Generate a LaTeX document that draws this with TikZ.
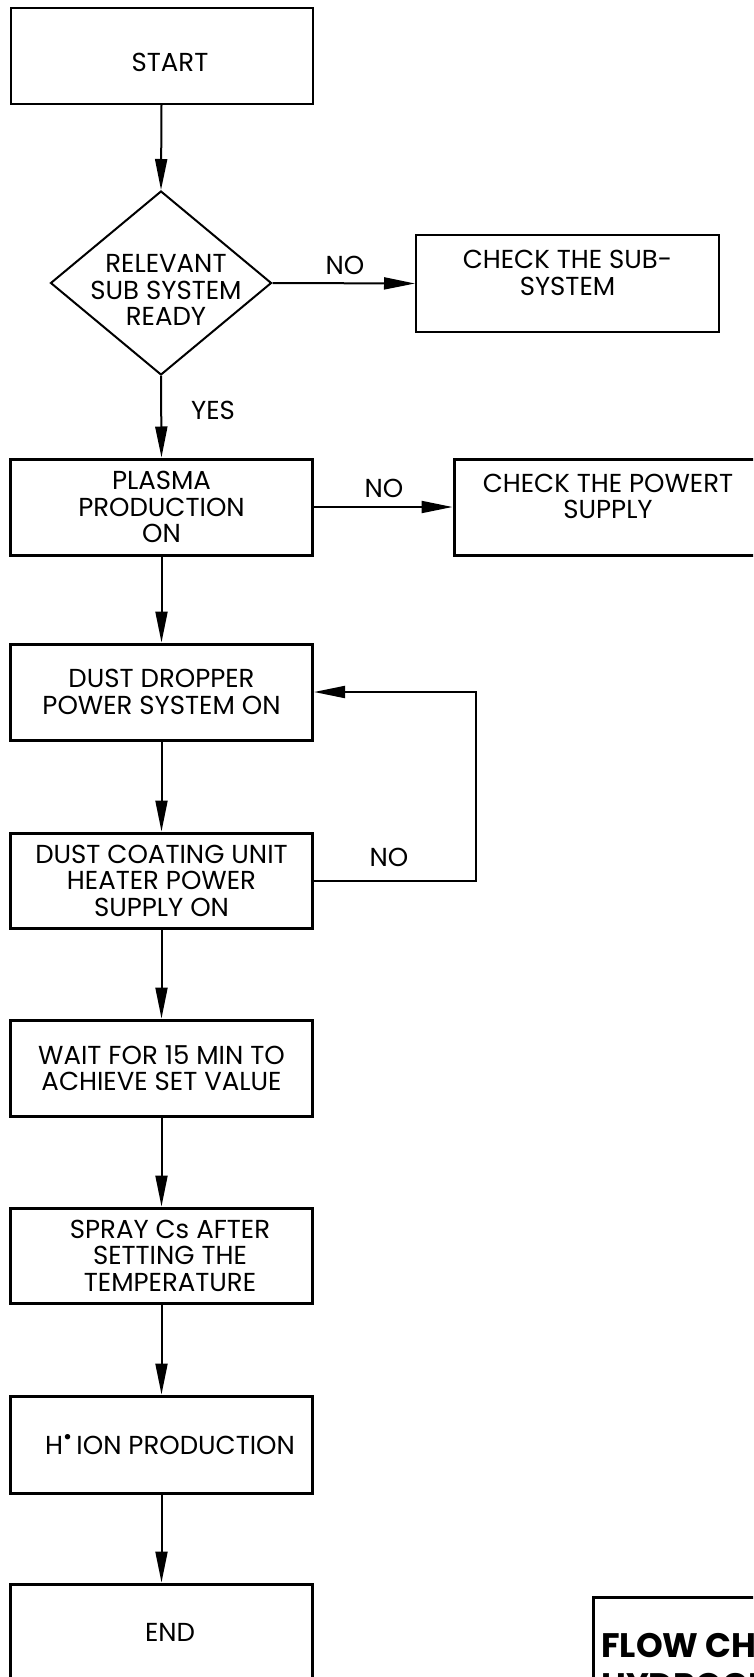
\documentclass[tikz,border=0pt]{standalone}
\usepackage{fontspec}
\setmainfont{Poppins}
\usetikzlibrary{arrows.meta,shapes.geometric}
\newcommand\boxfont{\fontsize{26}{26.5}\selectfont}
\newcommand\titlefont{\fontsize{34}{38}\selectfont\bfseries}
\newcommand\rsh{\hspace*{17pt}}
\begin{document}
\begin{tikzpicture}[x=1pt,y=-1pt,
  box/.style={draw, line width=3pt, minimum width=302pt, minimum height=96pt, inner sep=0pt, align=center, font=\boxfont},
  thinbox/.style={box, line width=2pt},
  decision/.style={draw, diamond, line width=2pt, minimum width=221pt, minimum height=184pt, inner sep=0pt},
  arr/.style={line width=2pt, -{Triangle[length=31pt,width=12pt]}},
  lbl/.style={font=\boxfont, inner sep=0pt, align=center},
  ttl/.style={font=\titlefont, inner sep=0pt, anchor=base west}]
\useasboundingbox (0,0) rectangle (753,1677);
\fill[white] (0,0) rectangle (753,1677);
\begin{scope}
\clip (0,0) rectangle (753,1677);
% boxes
\node[thinbox, text height=31pt, text depth=0pt] (start) at (161.5,56) {\rsh START};
\node[decision] (dec) at (161,283) {};
\node[lbl] (dectext) at (166,290) {RELEVANT\\SUB SYSTEM\\READY};
\node[thinbox, minimum width=303pt, minimum height=97pt, text depth=21pt] (chk) at (567.5,283.5) {CHECK THE SUB-\\SYSTEM};
\node[box] (pla) at (161.5,507) {PLASMA\\PRODUCTION\\ON};
\node[box, minimum width=320pt, text depth=21pt] (pow) at (614,507) {\hspace*{-12pt}CHECK THE POWERT\\\hspace*{-12pt}SUPPLY};
\node[box] (dd) at (161.5,692) {DUST DROPPER\\POWER SYSTEM ON};
\node[box, minimum height=95pt] (dc) at (161.5,880.5) {DUST COATING UNIT\\HEATER POWER\\SUPPLY ON};
\node[box] (wait) at (161.5,1068) {WAIT FOR 15 MIN TO\\ACHIEVE SET VALUE};
\node[box, minimum height=95pt] (spray) at (161.5,1255.5) {\rsh SPRAY Cs AFTER\\\rsh SETTING THE\\\rsh TEMPERATURE};
\node[box, minimum height=97pt] (hion) at (161.5,1444.5) {\rsh H\raisebox{10pt}{\fontsize{22}{22}\selectfont •}\,ION PRODUCTION};
\node[box] (end) at (161.5,1632) {\rsh END};
% labels
\node[lbl] (no1) at (345,265) {NO};
\node[lbl] (yes) at (213,410) {YES};
\node[lbl] (no2) at (384,488) {NO};
\node[lbl] (no3) at (389,857) {NO};
% connectors
\draw[arr] (start.south) -- (dec.north);
\draw[arr] (dec.east) -- (chk.west);
\draw[arr] (dec.south) -- (pla.north);
\draw[arr] (pla.east) -- (pla.east -| pow.west);
\draw[arr] (pla.south) -- (dd.north);
\draw[arr] (dd.south) -- (dc.north);
\draw[arr] (dc.east) -- ++(161.5,0) coordinate (loop) |- (dd.east);
\draw[arr] (dc.south) -- (wait.north);
\draw[arr] (wait.south) -- (spray.north);
\draw[arr] (spray.south) -- (hion.north);
\draw[arr] (hion.south) -- (end.north);
% title block
\node[draw, line width=3pt, anchor=north west, minimum width=250pt, minimum height=150pt] (tbox) at (592,1596) {};
\node[ttl] (t1) at (601,1657) {FLOW CHART};
\node[ttl] (t2) at (601,1697) {HYDROGEN};
\end{scope}
\end{tikzpicture}
\end{document}
